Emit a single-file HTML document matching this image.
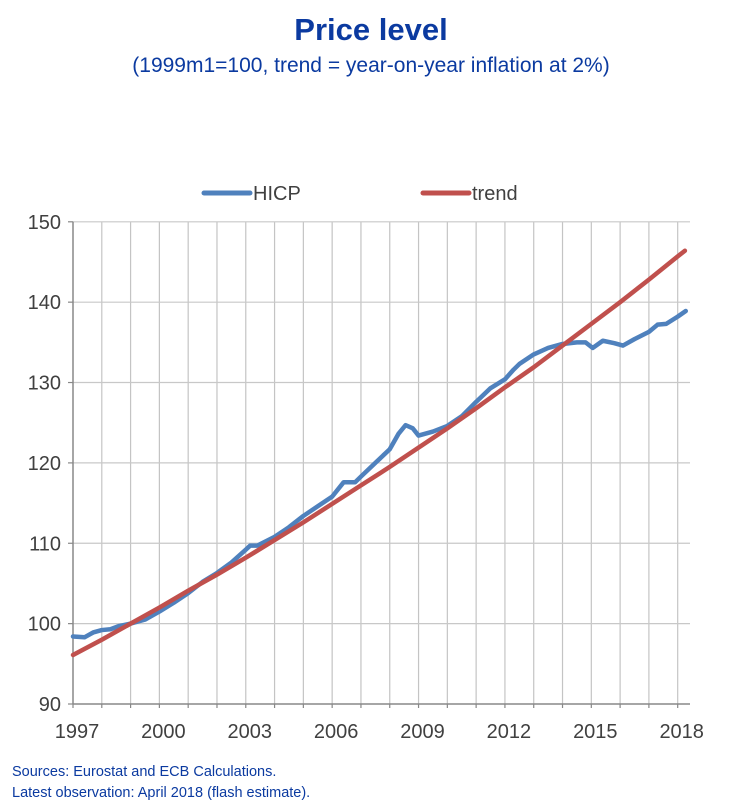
<!DOCTYPE html>
<html><head><meta charset="utf-8">
<style>
body{margin:0;background:#fff;width:742px;height:811px;overflow:hidden;font-family:"Liberation Sans",Arial,sans-serif;}
.t{position:absolute;left:0;width:742px;text-align:center;color:#0b3aa0;}
.s{position:absolute;left:12px;color:#0b3aa0;font-size:14.5px;}
</style></head><body>
<div class="t" style="top:12px;font-size:31px;font-weight:bold;">Price level</div>
<div class="t" style="top:54px;font-size:21px;">(1999m1=100, trend = year-on-year inflation at 2%)</div>
<svg id="c" width="742" height="811" style="position:absolute;left:0;top:0"></svg>
<div class="s" style="top:764px;">Sources: Eurostat and ECB Calculations.</div>
<div class="s" style="top:785px;">Latest observation: April 2018 (flash estimate).</div>
<script>
const yTicks=[90,100,110,120,130,140,150];
const xTickLabels=["1997","2000","2003","2006","2009","2012","2015","2018"];
const trendYears=[1997,1998,1999,2000,2001,2002,2003,2004,2005,2006,2007,2008,2009,2010,2011,2012,2013,2014,2015,2016,2017,2018,2018.25];
const trendValues=[96.1,98.0,100,102.0,104.1,106.1,108.2,110.4,112.6,114.9,117.2,119.5,121.9,124.3,126.8,129.4,131.9,134.6,137.3,140.0,142.8,145.7,146.4];
const hicpYears=[1997,1997.4,1997.7,1998,1998.3,1998.6,1999,1999.5,2000,2000.5,2001,2001.5,2002,2002.5,2003,2003.15,2003.4,2004,2004.5,2005,2005.5,2006,2006.4,2006.8,2007,2007.5,2008,2008.3,2008.55,2008.8,2009,2009.5,2010,2010.5,2011,2011.5,2012,2012.3,2012.5,2013,2013.5,2014,2014.5,2014.8,2015.05,2015.4,2015.8,2016.1,2016.5,2017,2017.3,2017.6,2018,2018.28];
const hicpValues=[98.4,98.3,98.9,99.2,99.3,99.7,100.0,100.5,101.5,102.6,103.8,105.2,106.3,107.6,109.2,109.7,109.7,110.8,112.0,113.4,114.6,115.8,117.6,117.6,118.3,120.0,121.7,123.6,124.7,124.3,123.4,123.9,124.6,125.8,127.6,129.3,130.4,131.6,132.3,133.5,134.3,134.8,135.0,135.0,134.3,135.2,134.9,134.6,135.4,136.3,137.2,137.3,138.2,138.9];
const svg=document.getElementById('c');const NS='http://www.w3.org/2000/svg';
const X0=73,X1=677.7,Y0=704,Y1=221.8;
const xs=y=>X0+(y-1997)*(X1-X0)/21;
const ys=v=>Y0-(v-90)*(Y0-Y1)/60;
function el(t,a){const e=document.createElementNS(NS,t);for(const k in a)e.setAttribute(k,a[k]);svg.appendChild(e);return e;}
for(let yr=1998;yr<=2018;yr++){const g=el('line',{x1:xs(yr),x2:xs(yr),y1:Y1,y2:Y0,stroke:'#c4c4c4','stroke-width':1.2});

}
yTicks.forEach(v=>{if(v>90){const g=el('line',{x1:X0,x2:690,y1:ys(v),y2:ys(v),stroke:'#c8c8c8','stroke-width':1.2});

}
const tk=el('line',{x1:X0-5,x2:X0,y1:ys(v),y2:ys(v),stroke:'#888','stroke-width':1.2});


const t=el('text',{x:X0-12,y:ys(v)+7,'text-anchor':'end','font-size':20,fill:'#404040'});t.textContent=v;

});
const ya=el('line',{x1:X0,x2:X0,y1:Y1,y2:Y0,stroke:'#888','stroke-width':1.5});


const xa=el('line',{x1:X0,x2:690,y1:Y0,y2:Y0,stroke:'#888','stroke-width':1.5});


for(let yr=1997;yr<=2018;yr++){const tk=el('line',{x1:xs(yr),x2:xs(yr),y1:Y0,y2:Y0+4,stroke:'#888','stroke-width':1.2});

}
xTickLabels.forEach(l=>{const t=el('text',{x:xs(+l)+4,y:Y0+34,'text-anchor':'middle','font-size':20,fill:'#404040'});t.textContent=l;

});
function line(xsArr,vals,col,name){const p=el('polyline',{points:xsArr.map((y,i)=>xs(y)+','+ys(vals[i])).join(' '),fill:'none',stroke:col,'stroke-width':4.5,'stroke-linejoin':'round','stroke-linecap':'round'});

}
line(hicpYears,hicpValues,'#4f81bd','hicp-line');
line(trendYears,trendValues,'#c0504d','trend-line');
function leg(x,col,label,name){const l=el('line',{x1:x,x2:x+46,y1:193,y2:193,stroke:col,'stroke-width':5,'stroke-linecap':'round'});


const t=el('text',{x:x+49,y:200,'font-size':20,fill:'#404040'});t.textContent=label;

}
leg(204,'#4f81bd','HICP','legend-hicp');
leg(423,'#c0504d','trend','legend-trend');
</script>
</body></html>
